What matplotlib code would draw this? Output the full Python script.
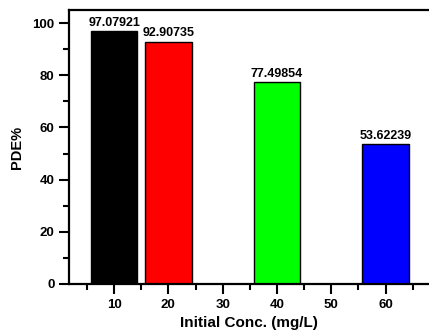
import matplotlib
matplotlib.use("Agg")
import matplotlib.pyplot as plt
from matplotlib.ticker import MultipleLocator

plt.rcParams['font.family'] = ['Liberation Sans', 'DejaVu Sans']
plt.rcParams['font.weight'] = 'bold'

conc = [10, 20, 40, 60]
pde = [97.07921, 92.90735, 77.49854, 53.62239]
labels = ["97.07921", "92.90735", "77.49854", "53.62239"]
colors = ["#000000", "#ff0000", "#00ff00", "#0000ff"]

fig = plt.figure(figsize=(4.29, 3.35), dpi=100)
ax = fig.add_axes([69 / 429, 51 / 335, (429 - 69) / 429, 274 / 335])

ax.bar(conc, pde, width=8.6, color=colors, edgecolor="black", linewidth=1.0)
for x, y, s in zip(conc, pde, labels):
    ax.text(x, y + 0.8, s, ha="center", va="bottom", fontsize=9, fontweight="bold")

ax.set_xlim(1.7, 68.0)
ax.set_ylim(0, 105)
ax.xaxis.set_major_locator(MultipleLocator(10))
ax.xaxis.set_minor_locator(MultipleLocator(5))
ax.yaxis.set_major_locator(MultipleLocator(20))
ax.yaxis.set_minor_locator(MultipleLocator(10))
ax.set_xticks([10, 20, 30, 40, 50, 60])
ax.set_xticklabels(["10", "20", "30", "40", "50", "60"])

ax.tick_params(which="major", direction="out", length=7.5, width=1.5, labelsize=9.5, pad=3)
ax.tick_params(which="minor", direction="out", length=4, width=1.5)
for lab in ax.get_xticklabels() + ax.get_yticklabels():
    lab.set_fontweight("bold")

for side in ["left", "bottom", "top"]:
    ax.spines[side].set_linewidth(1.6)
ax.spines["right"].set_visible(False)

ax.set_xlabel("Initial Conc. (mg/L)", fontsize=11, fontweight="bold", labelpad=4)
ax.set_ylabel("PDE%", fontsize=10.5, fontweight="bold", labelpad=6)

fig.savefig("out.png", dpi=100)
